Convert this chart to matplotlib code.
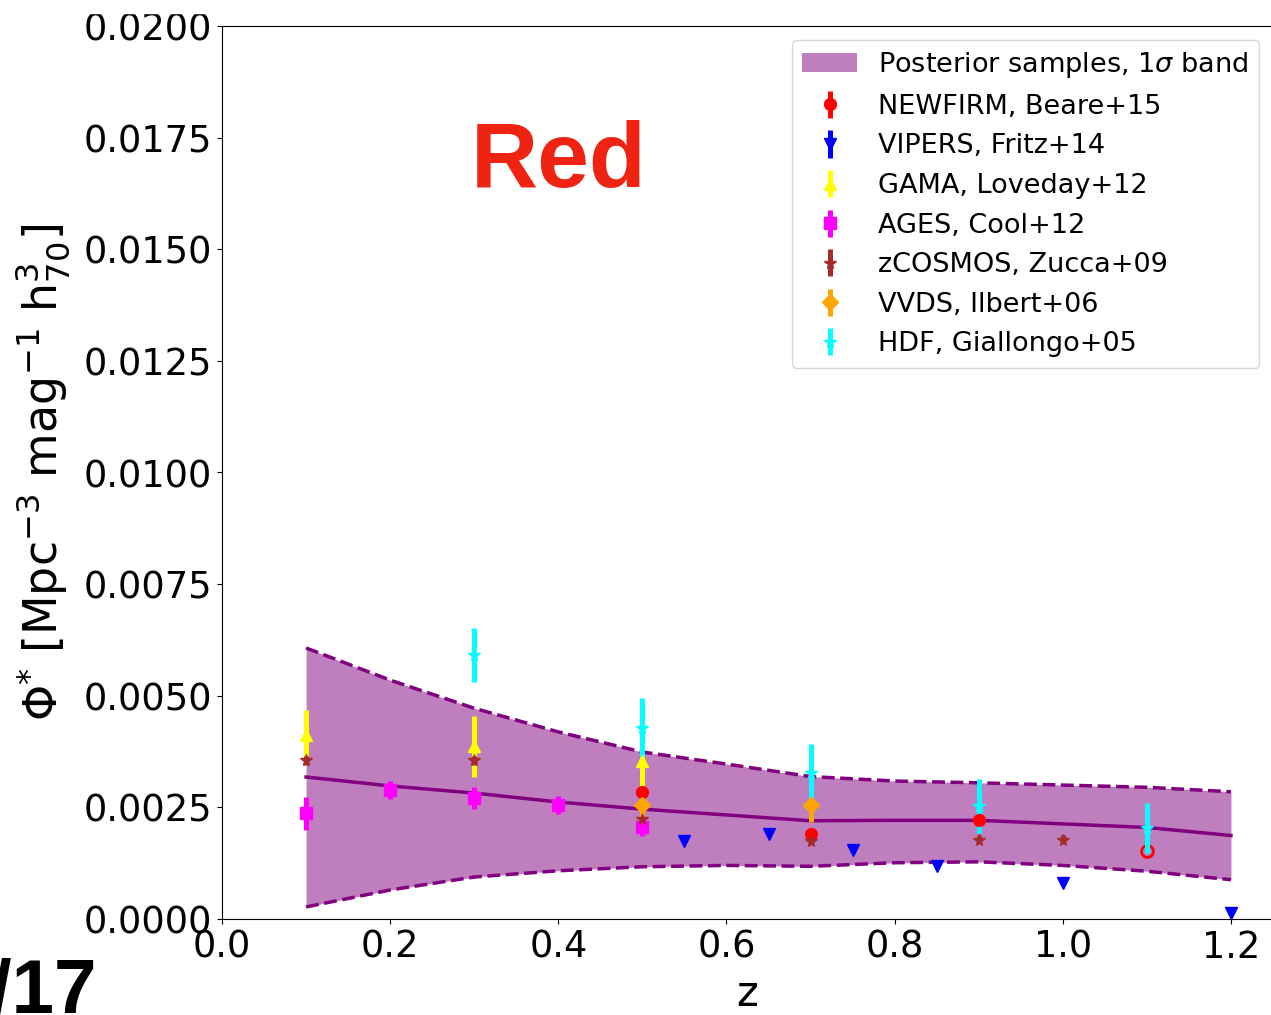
import matplotlib
matplotlib.use("Agg")
import matplotlib.pyplot as plt
from matplotlib.patches import Rectangle
import numpy as np

# posterior band (1 sigma) on a z grid
z_grid = [0.1, 0.2, 0.3, 0.4, 0.5, 0.6, 0.7, 0.8, 0.9, 1.0, 1.1, 1.2]
band_hi = [0.00607, 0.00535, 0.00472, 0.00419, 0.00374, 0.00347, 0.00319, 0.00309, 0.00305, 0.00300, 0.00295, 0.00285]
band_lo = [0.00027, 0.00065, 0.00094, 0.00108, 0.00117, 0.00120, 0.00118, 0.00126, 0.00128, 0.00120, 0.00107, 0.00088]
band_mid = [0.00318, 0.00298, 0.00282, 0.00262, 0.00246, 0.00233, 0.00220, 0.00221, 0.00221, 0.00213, 0.00205, 0.00187]

# literature points
newfirm_z = [0.5, 0.7, 0.9]
newfirm_phi = [0.00284, 0.00190, 0.00222]
newfirm_err = [0.00005, 0.00005, 0.00005]
newfirm_open_z = [1.1]
newfirm_open_phi = [0.00153]

vipers_z = [0.55, 0.65, 0.75, 0.85, 1.0, 1.2]
vipers_phi = [0.00175, 0.00190, 0.00155, 0.00119, 0.00080, 0.00014]
vipers_err = [0.00003, 0.00003, 0.00003, 0.00003, 0.00003, 0.00003]

gama_z = [0.1, 0.3, 0.5]
gama_phi = [0.00412, 0.00387, 0.00354]
gama_err = [0.00055, 0.00068, 0.00080]

ages_z = [0.1, 0.2, 0.3, 0.4, 0.5]
ages_phi = [0.00237, 0.00288, 0.00271, 0.00256, 0.00207]
ages_err = [0.00037, 0.00020, 0.00025, 0.00020, 0.00020]

zcosmos_z = [0.1, 0.3, 0.5, 0.7, 0.9, 1.0]
zcosmos_phi = [0.00356, 0.00356, 0.00225, 0.00175, 0.00178, 0.00178]
zcosmos_err = [0.0001, 0.0001, 0.0001, 0.0001, 0.0001, 0.0001]

vvds_z = [0.5, 0.7]
vvds_phi = [0.00255, 0.00255]
vvds_err = [0.00038, 0.00037]

hdf_z = [0.3, 0.5, 0.7, 0.9, 1.1]
hdf_phi = [0.00591, 0.00428, 0.00326, 0.00253, 0.00203]
hdf_err = [0.00060, 0.00066, 0.00065, 0.00060, 0.00056]

fig = plt.figure(figsize=(12.71, 10.15), dpi=100)
ax = fig.add_axes([222/1271, 96/1015, 1051/1271, 893/1015])

ax.fill_between(z_grid, band_lo, band_hi, color="purple", alpha=0.5, lw=0,
                label=r"Posterior samples, 1$\sigma$ band")
ax.plot(z_grid, band_hi, "--", color="purple", lw=2.5)
ax.plot(z_grid, band_lo, "--", color="purple", lw=2.5)
ax.plot(z_grid, band_mid, "-", color="purple", lw=2.5)

eb = dict(ls="none", elinewidth=3.6, capsize=0, ms=8.5)
ax.errorbar(newfirm_z, newfirm_phi, yerr=newfirm_err, fmt="o", color="red",
            label="NEWFIRM, Beare+15", **eb)
ax.plot(newfirm_open_z, newfirm_open_phi, "o", mfc="none", mec="red", ms=8.5, mew=2)
ax.errorbar(vipers_z, vipers_phi, yerr=vipers_err, fmt="v", color="blue",
            label="VIPERS, Fritz+14", **eb)
ax.errorbar(gama_z, gama_phi, yerr=gama_err, fmt="^", color="yellow",
            label="GAMA, Loveday+12", **eb)
ax.errorbar(ages_z, ages_phi, yerr=ages_err, fmt="s", color="magenta",
            label="AGES, Cool+12", **eb)
ax.errorbar(zcosmos_z, zcosmos_phi, yerr=zcosmos_err, fmt="*", color="brown",
            label="zCOSMOS, Zucca+09", **eb)
ax.errorbar(vvds_z, vvds_phi, yerr=vvds_err, fmt="D", color="orange",
            label="VVDS, Ilbert+06", **eb)
ax.errorbar(hdf_z, hdf_phi, yerr=hdf_err, fmt="*", color="cyan",
            label="HDF, Giallongo+05", **eb)

ax.set_xlim(0, 1.25)
ax.set_ylim(0, 0.02)
ax.set_xticks([0.0, 0.2, 0.4, 0.6, 0.8, 1.0, 1.2])
ax.set_yticks(np.arange(0, 0.02001, 0.0025))
ax.tick_params(labelsize=26.5)
ax.set_xlabel("z", fontsize=30)
ax.set_ylabel(r"$\Phi^{*}$ [Mpc$^{-3}$ mag$^{-1}$ h$^{3}_{70}$]", fontsize=33)
ax.yaxis.set_label_coords(-0.143, 0.5)
ax.xaxis.set_label_coords(0.5, -0.06)

ax.legend(loc="upper right", fontsize=19.5, labelspacing=0.5)

ax.text(0.32, 0.82, "Red", transform=ax.transAxes, fontsize=67,
        fontweight="bold", family="Liberation Sans", color="#ee2312", ha="center")
fig.text(97/1271, 2/1015, "4/17", fontsize=55, fontweight="bold",
         family="Liberation Sans", ha="right", va="baseline")

# the top strip of the slide is blank (clips the top tick label)
fig.add_artist(Rectangle((0, 1 - 13/1015), 1, 13/1015, transform=fig.transFigure,
                         color="white", zorder=10))

fig.savefig("out.png", dpi=100)
